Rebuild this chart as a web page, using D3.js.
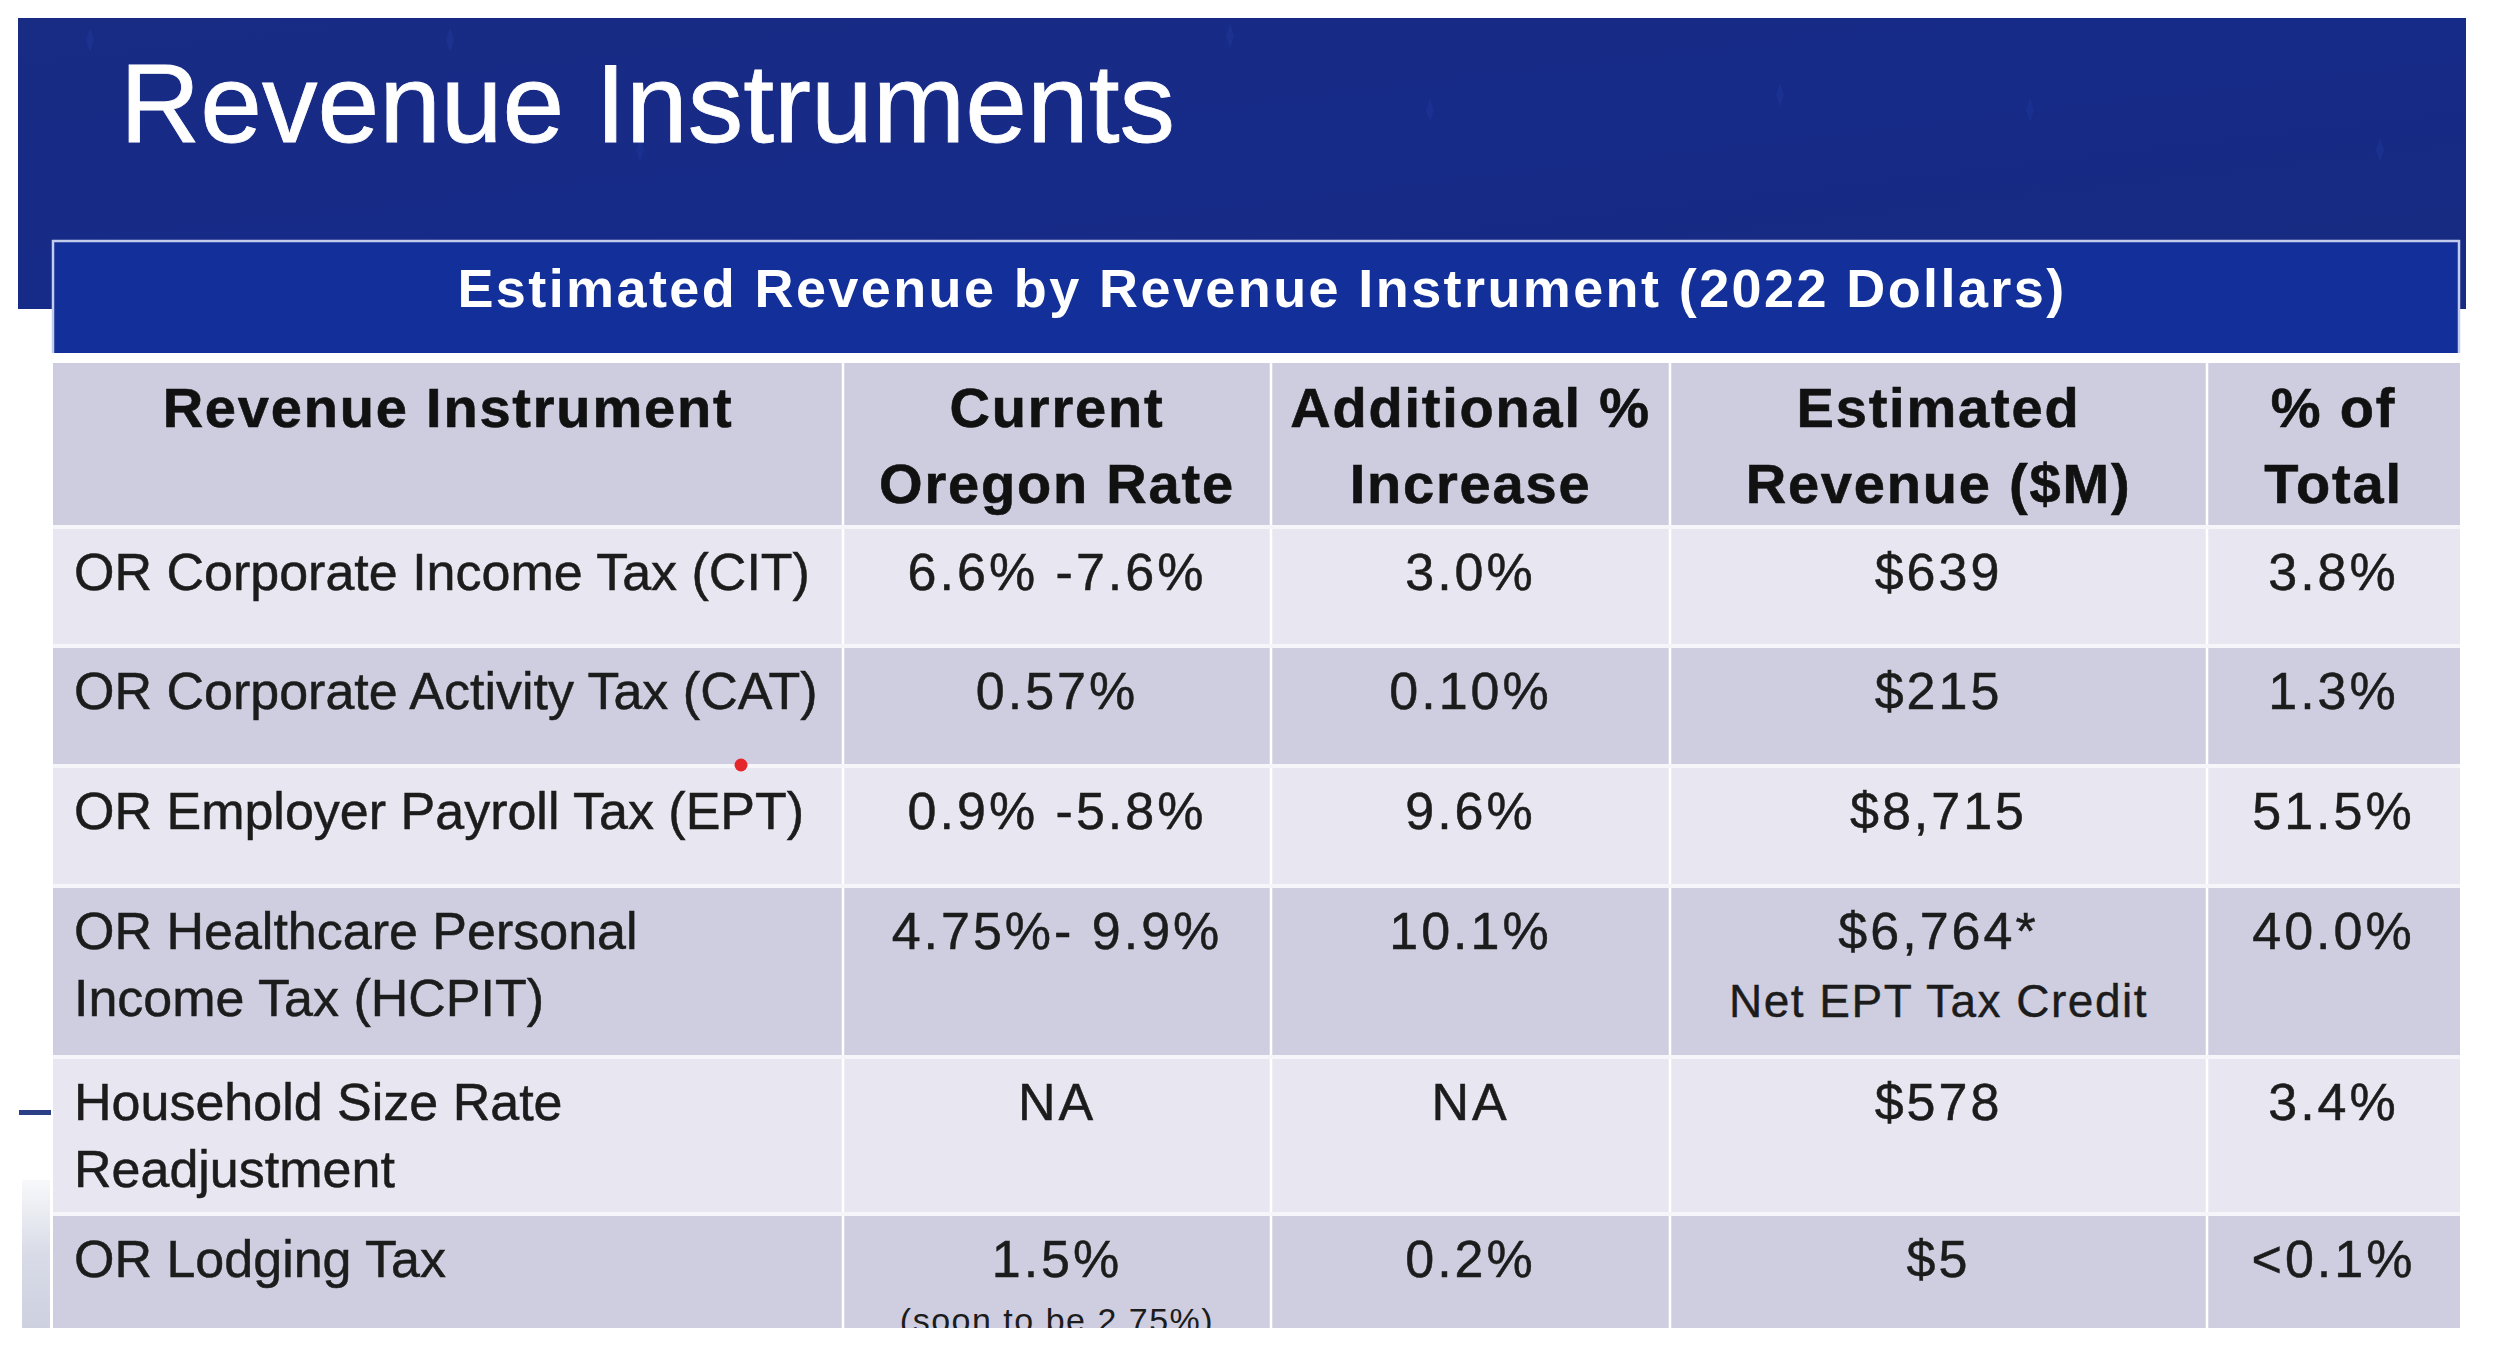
<!DOCTYPE html>
<html>
<head>
<meta charset="utf-8">
<script src="https://cdn.jsdelivr.net/npm/d3@7/dist/d3.min.js"></script>
<style>
  html, body { margin: 0; padding: 0; background: #ffffff; }
  svg { display: block; }
  text { font-family: "Liberation Sans", Arial, "DejaVu Sans", sans-serif; }
</style>
</head>
<body>
<svg id="chart" width="2500" height="1363"></svg>
<script>
// ---------------- DATA ----------------
const slideTitle = "Revenue Instruments";
const tableTitle = "Estimated Revenue by Revenue Instrument (2022 Dollars)";
const headerLines = [
  ["Revenue Instrument"],
  ["Current", "Oregon Rate"],
  ["Additional %", "Increase"],
  ["Estimated", "Revenue ($M)"],
  ["% of", "Total"]
];
const instruments = [
  ["OR Corporate Income Tax (CIT)"],
  ["OR Corporate Activity Tax (CAT)"],
  ["OR Employer Payroll Tax (EPT)"],
  ["OR Healthcare Personal", "Income Tax (HCPIT)"],
  ["Household Size Rate", "Readjustment"],
  ["OR Lodging Tax"]
];
const currentRates = ["6.6% -7.6%", "0.57%", "0.9% -5.8%", "4.75%- 9.9%", "NA", "1.5%"];
const rateNotes = ["", "", "", "", "", "(soon to be 2.75%)"];
const additionalIncrease = ["3.0%", "0.10%", "9.6%", "10.1%", "NA", "0.2%"];
const estimatedRevenue = ["$639", "$215", "$8,715", "$6,764*", "$578", "$5"];
const revenueNotes = ["", "", "", "Net EPT Tax Credit", "", ""];
const percentOfTotal = ["3.8%", "1.3%", "51.5%", "40.0%", "3.4%", "<0.1%"];

// ---------------- LAYOUT ----------------
const colWeights = [790, 428, 399, 537, 253];
const rowWeights = [119, 120, 120, 171, 157, 157];
const tableLeft = 53, tableRight = 2460;
const headTop = 363, headBottom = 527;
const bodyTop = 527, clipBottom = 1328;

const svg = d3.select("#chart");
const defs = svg.append("defs");

// column scale (cumulative weights -> x)
const colEdges = d3.cumsum([0, ...colWeights]);
const x = d3.scaleLinear().domain([0, d3.sum(colWeights)]).range([tableLeft, tableRight]);
const colX0 = i => x(colEdges[i]);
const colX1 = i => x(colEdges[i + 1]);
const colMid = i => (colX0(i) + colX1(i)) / 2;

// row scale
const rowEdges = d3.cumsum([0, ...rowWeights]);
const y = d3.scaleLinear().domain([0, 119]).range([bodyTop, bodyTop + 119]);
const rowY0 = i => y(rowEdges[i]);
const rowY1 = i => y(rowEdges[i + 1]);

// background banner
const grad = defs.append("linearGradient").attr("id", "bannerGrad")
  .attr("x1", "0").attr("y1", "0").attr("x2", "1").attr("y2", "1");
grad.append("stop").attr("offset", "0%").attr("stop-color", "#182c84");
grad.append("stop").attr("offset", "50%").attr("stop-color", "#162a88");
grad.append("stop").attr("offset", "100%").attr("stop-color", "#172b80");

svg.append("rect").attr("x", 18).attr("y", 18).attr("width", 2448).attr("height", 291)
  .attr("fill", "url(#bannerGrad)");

// faint sparkle decorations in the banner
const sparkles = [[90, 40], [450, 40], [1230, 36], [1430, 110], [1780, 95], [2030, 110], [2380, 150], [640, 150]];
svg.append("g").selectAll("path").data(sparkles).join("path")
  .attr("d", d => `M${d[0]},${d[1]-12} L${d[0]+4},${d[1]} L${d[0]},${d[1]+12} L${d[0]-4},${d[1]} Z`)
  .attr("fill", "#2a47b8").attr("opacity", 0.22);

svg.append("text")
  .attr("x", 120).attr("y", 142)
  .attr("font-size", 111)
  .attr("fill", "#ffffff")
  .attr("stroke", "#ffffff").attr("stroke-width", 0.8)
  .text(slideTitle);

// table title bar
svg.append("rect").attr("x", 52).attr("y", 240).attr("width", 2408).attr("height", 113)
  .attr("fill", "#13309a");
svg.append("path")
  .attr("d", "M53,353 L53,241 L2459,241 L2459,353")
  .attr("fill", "none").attr("stroke", "#c3cbef").attr("stroke-width", 2.5);
svg.append("text")
  .attr("x", 1262).attr("y", 307)
  .attr("text-anchor", "middle")
  .attr("font-size", 54).attr("font-weight", "bold")
  .attr("letter-spacing", 2.4)
  .attr("fill", "#ffffff")
  .text(tableTitle);

// clip for table body
defs.append("clipPath").attr("id", "tableClip")
  .append("rect").attr("x", 0).attr("y", 0).attr("width", 2500).attr("height", clipBottom);

const table = svg.append("g").attr("clip-path", "url(#tableClip)");

// header row background
table.append("rect").attr("x", tableLeft).attr("y", headTop)
  .attr("width", tableRight - tableLeft).attr("height", headBottom - headTop)
  .attr("fill", "#cdcddf");

// body row backgrounds
const rowIdx = d3.range(instruments.length);
table.append("g").selectAll("rect").data(rowIdx).join("rect")
  .attr("x", tableLeft).attr("y", i => rowY0(i))
  .attr("width", tableRight - tableLeft).attr("height", i => rowY1(i) - rowY0(i))
  .attr("fill", i => i % 2 === 0 ? "#e8e7f1" : "#cecee0");

// grid lines (white)
table.append("g").selectAll("line").data(d3.range(1, colWeights.length)).join("line")
  .attr("x1", i => colX0(i)).attr("x2", i => colX0(i))
  .attr("y1", headTop).attr("y2", clipBottom)
  .attr("stroke", "#ffffff").attr("stroke-width", 2.5);
table.append("g").selectAll("line").data(d3.range(0, instruments.length)).join("line")
  .attr("x1", tableLeft).attr("x2", tableRight)
  .attr("y1", i => rowY0(i)).attr("y2", i => rowY0(i))
  .attr("stroke", "#f6f6fa").attr("stroke-width", 4);

// header text
headerLines.forEach((lines, c) => {
  lines.forEach((ln, k) => {
    table.append("text")
      .attr("x", colMid(c)).attr("y", headTop + 64 + k * 76)
      .attr("text-anchor", "middle")
      .attr("font-size", 56).attr("font-weight", "bold")
      .attr("letter-spacing", 1.8)
      .attr("fill", "#111111")
      .attr("stroke", "#111111").attr("stroke-width", 0.6)
      .text(ln);
  });
});

// body text
const bodyColor = "#1c1c1c";
rowIdx.forEach(r => {
  const top = rowY0(r);
  instruments[r].forEach((ln, k) => {
    table.append("text")
      .attr("x", 74).attr("y", top + 63 + k * 67)
      .attr("font-size", 52)
      .attr("fill", bodyColor)
      .attr("stroke", bodyColor).attr("stroke-width", 0.5)
      .text(ln);
  });
  const numCols = [currentRates, additionalIncrease, estimatedRevenue, percentOfTotal];
  numCols.forEach((arr, j) => {
    table.append("text")
      .attr("x", colMid(j + 1)).attr("y", top + 63)
      .attr("text-anchor", "middle")
      .attr("font-size", 52).attr("letter-spacing", 3)
      .attr("fill", bodyColor)
      .attr("stroke", bodyColor).attr("stroke-width", 0.5)
      .text(arr[r]);
  });
  if (rateNotes[r]) {
    table.append("text")
      .attr("x", colMid(1)).attr("y", top + 118)
      .attr("text-anchor", "middle")
      .attr("font-size", 34).attr("letter-spacing", 1.5)
      .attr("fill", bodyColor)
      .text(rateNotes[r]);
  }
  if (revenueNotes[r]) {
    table.append("text")
      .attr("x", colMid(3)).attr("y", top + 131)
      .attr("text-anchor", "middle")
      .attr("font-size", 46).attr("letter-spacing", 1.5)
      .attr("fill", bodyColor)
      .attr("stroke", bodyColor).attr("stroke-width", 0.4)
      .text(revenueNotes[r]);
  }
});

// small side decorations
svg.append("rect").attr("x", 19).attr("y", 1110).attr("width", 32).attr("height", 5).attr("fill", "#2a3f86");
const sideGrad = defs.append("linearGradient").attr("id", "sideGrad")
  .attr("x1", "0").attr("y1", "0").attr("x2", "0").attr("y2", "1");
sideGrad.append("stop").attr("offset", "0%").attr("stop-color", "#f2f3f7");
sideGrad.append("stop").attr("offset", "50%").attr("stop-color", "#b9bfd4");
sideGrad.append("stop").attr("offset", "100%").attr("stop-color", "#a3abc7");
svg.append("rect").attr("x", 22).attr("y", 1180).attr("width", 28).attr("height", 148)
  .attr("fill", "url(#sideGrad)").attr("opacity", 0.55);

// red pointer dot
svg.append("circle").attr("cx", 741).attr("cy", 765).attr("r", 6.5).attr("fill", "#e5262a");
</script>
</body>
</html>
